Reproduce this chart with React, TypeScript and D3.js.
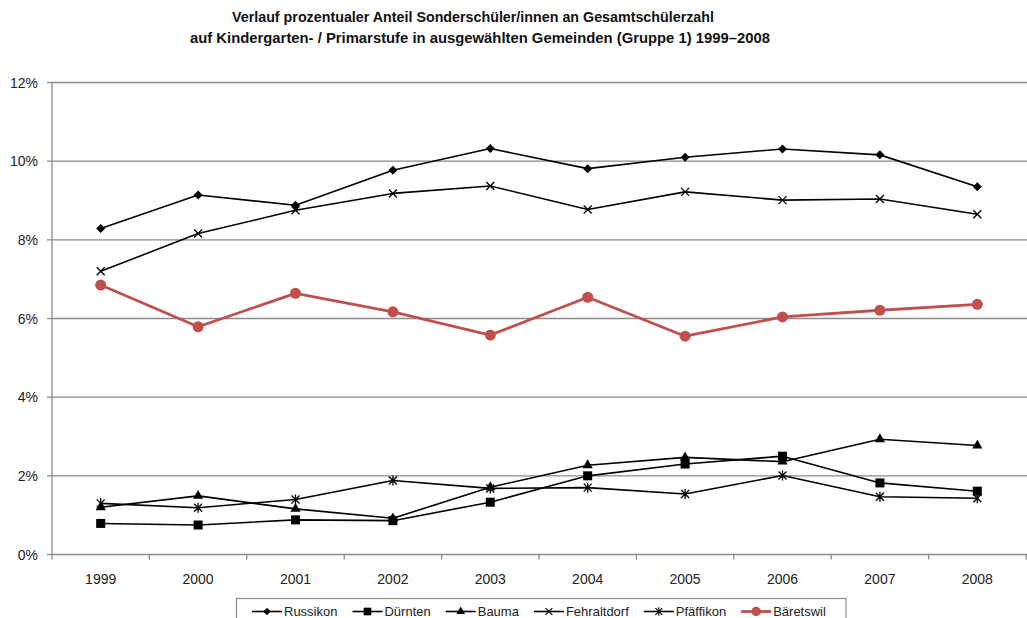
import React, { useEffect, useRef } from "react";
import * as d3 from "d3";

const years = ["1999", "2000", "2001", "2002", "2003", "2004", "2005", "2006", "2007", "2008"];
const yTicks = [0, 2, 4, 6, 8, 10, 12];

const russikon = [8.29, 9.14, 8.88, 9.77, 10.32, 9.81, 10.1, 10.31, 10.16, 9.35];
const duernten = [0.79, 0.75, 0.88, 0.86, 1.33, 2.0, 2.3, 2.5, 1.82, 1.61];
const bauma = [1.2, 1.49, 1.16, 0.92, 1.71, 2.27, 2.47, 2.36, 2.93, 2.77];
const fehraltdorf = [7.2, 8.16, 8.75, 9.18, 9.37, 8.77, 9.22, 9.01, 9.04, 8.65];
const pfaeffikon = [1.3, 1.19, 1.4, 1.88, 1.68, 1.7, 1.54, 2.01, 1.47, 1.43];
const baeretswil = [6.85, 5.79, 6.64, 6.17, 5.58, 6.54, 5.55, 6.04, 6.21, 6.36];

const seriesNames = ["Russikon", "Dürnten", "Bauma", "Fehraltdorf", "Pfäffikon", "Bäretswil"];
const seriesValues = [russikon, duernten, bauma, fehraltdorf, pfaeffikon, baeretswil];
const seriesMarkers = ["diamond", "square", "triangle", "x", "star", "circle"];
const seriesColors = ["#000000", "#000000", "#000000", "#000000", "#000000", "#c0504d"];

const titleLines = [
  "Verlauf prozentualer Anteil Sonderschüler/innen an Gesamtschülerzahl",
  "auf Kindergarten- / Primarstufe in ausgewählten Gemeinden (Gruppe 1) 1999–2008",
];

const W = 1027;
const H = 618;
const FONT = "'Liberation Sans', Arial, sans-serif";

function drawMarker(g: any, type: string, color: string) {
  if (type === "diamond") {
    g.append("path").attr("d", "M0,-4.5L4.5,0L0,4.5L-4.5,0Z").attr("fill", color);
  } else if (type === "square") {
    g.append("rect").attr("x", -4.5).attr("y", -4.5).attr("width", 9).attr("height", 9).attr("fill", color);
  } else if (type === "triangle") {
    g.append("path").attr("d", d3.symbol(d3.symbolTriangle, 45)()).attr("fill", color);
  } else if (type === "x") {
    g.append("path").attr("d", "M-4,-4L4,4M-4,4L4,-4").attr("stroke", color).attr("stroke-width", 1.3);
  } else if (type === "star") {
    g.append("path")
      .attr("d", "M-4,-4L4,4M-4,4L4,-4M0,-5L0,5")
      .attr("stroke", color)
      .attr("stroke-width", 1.3);
  } else if (type === "circle") {
    g.append("circle").attr("r", 5.5).attr("fill", color);
  }
}

export default function App() {
  const ref = useRef<SVGSVGElement>(null);

  useEffect(() => {
    const svg = d3.select(ref.current);
    svg.selectAll("*").remove();

    const x = d3.scaleBand().domain(years).range([52, 1026]).padding(0);
    const y = d3.scaleLinear().domain([0, 12]).range([554.5, 82.5]);

    // title
    const tg = svg.append("g");
    const titleY = [22, 43];
    const titleW = [482, 580];
    const titleX = [473, 480];
    titleLines.forEach((t, i) => {
      tg.append("text")
        .attr("x", titleX[i])
        .attr("y", titleY[i])
        .attr("text-anchor", "middle")
        .attr("font-family", FONT)
        .attr("font-weight", "bold")
        .attr("font-size", 15.5)
        .attr("textLength", titleW[i])
        .attr("lengthAdjust", "spacingAndGlyphs")
        .attr("fill", "#111")
        .text(t);
    });

    // gridlines
    svg
      .append("g")
      .selectAll("line")
      .data(yTicks.filter((d) => d > 0))
      .join("line")
      .attr("x1", 52)
      .attr("x2", W)
      .attr("y1", (d) => y(d))
      .attr("y2", (d) => y(d))
      .attr("stroke", "#8a8a8a")
      .attr("stroke-width", 1.3);

    // y axis
    const ya = svg.append("g").attr("transform", "translate(52,0)");
    ya.append("line").attr("x1", 0).attr("x2", 0).attr("y1", y(12)).attr("y2", y(0)).attr("stroke", "#8a8a8a").attr("stroke-width", 1.3);
    ya.selectAll("line.t")
      .data(yTicks)
      .join("line")
      .attr("class", "t")
      .attr("x1", -5)
      .attr("x2", 0)
      .attr("y1", (d) => y(d))
      .attr("y2", (d) => y(d))
      .attr("stroke", "#8a8a8a")
      .attr("stroke-width", 1.3);
    ya.selectAll("text")
      .data(yTicks)
      .join("text")
      .attr("x", -14)
      .attr("y", (d) => y(d) + 5)
      .attr("text-anchor", "end")
      .attr("font-family", FONT)
      .attr("font-size", 14)
      .attr("fill", "#222")
      .text((d) => d + "%");

    // x axis
    const xa = svg.append("g");
    xa.append("line").attr("x1", 52).attr("x2", W).attr("y1", y(0)).attr("y2", y(0)).attr("stroke", "#8a8a8a").attr("stroke-width", 1.3);
    const bounds = years.map((d) => x(d) as number).concat([x.range()[1]]);
    xa.selectAll("line.t")
      .data(bounds)
      .join("line")
      .attr("class", "t")
      .attr("x1", (d) => d)
      .attr("x2", (d) => d)
      .attr("y1", y(0))
      .attr("y2", y(0) + 5)
      .attr("stroke", "#8a8a8a")
      .attr("stroke-width", 1.3);
    xa.selectAll("text")
      .data(years)
      .join("text")
      .attr("x", (d) => (x(d) as number) + x.bandwidth() / 2)
      .attr("y", 584)
      .attr("text-anchor", "middle")
      .attr("font-family", FONT)
      .attr("font-size", 14)
      .attr("fill", "#222")
      .text((d) => d);

    // series
    const line = d3
      .line<number>()
      .x((_, i) => (x(years[i]) as number) + x.bandwidth() / 2)
      .y((d) => y(d));
    seriesValues.forEach((vals, si) => {
      const isRed = si === 5;
      const g = svg.append("g");
      g.append("path")
        .attr("d", line(vals) as string)
        .attr("fill", "none")
        .attr("stroke", seriesColors[si])
        .attr("stroke-width", isRed ? 2.8 : 1.6)
        .attr("stroke-linejoin", "round");
      vals.forEach((v, i) => {
        const mg = g
          .append("g")
          .attr("transform", `translate(${(x(years[i]) as number) + x.bandwidth() / 2},${y(v)})`);
        drawMarker(mg, seriesMarkers[si], seriesColors[si]);
      });
    });

    // legend
    const lg = svg.append("g");
    const boxX = 236.5;
    const box = lg
      .append("rect")
      .attr("x", boxX)
      .attr("y", 598.5)
      .attr("width", 610)
      .attr("height", 30)
      .attr("fill", "white")
      .attr("stroke", "#8a8a8a")
      .attr("stroke-width", 1.2);
    let cx = 252;
    const ly = 611.5;
    seriesNames.forEach((name, si) => {
      const col = seriesColors[si];
      lg.append("line")
        .attr("x1", cx)
        .attr("x2", cx + 30)
        .attr("y1", ly)
        .attr("y2", ly)
        .attr("stroke", col)
        .attr("stroke-width", si === 5 ? 2.8 : 1.6);
      const mg = lg.append("g").attr("transform", `translate(${cx + 15},${ly}) scale(0.85)`);
      drawMarker(mg, seriesMarkers[si], col);
      const t = lg
        .append("text")
        .attr("x", cx + 32)
        .attr("y", ly + 4.5)
        .attr("font-family", FONT)
        .attr("font-size", 13)
        .attr("fill", "#222")
        .text(name);
      const w = (t.node() as SVGTextElement).getComputedTextLength();
      cx = cx + 32 + w + 15;
    });
    box.attr("width", Math.max(609.5, cx - boxX));
  }, []);

  return (
    <svg
      ref={ref}
      width={W}
      height={H}
      style={{ position: "absolute", left: 0, top: 0, background: "white" }}
    />
  );
}
